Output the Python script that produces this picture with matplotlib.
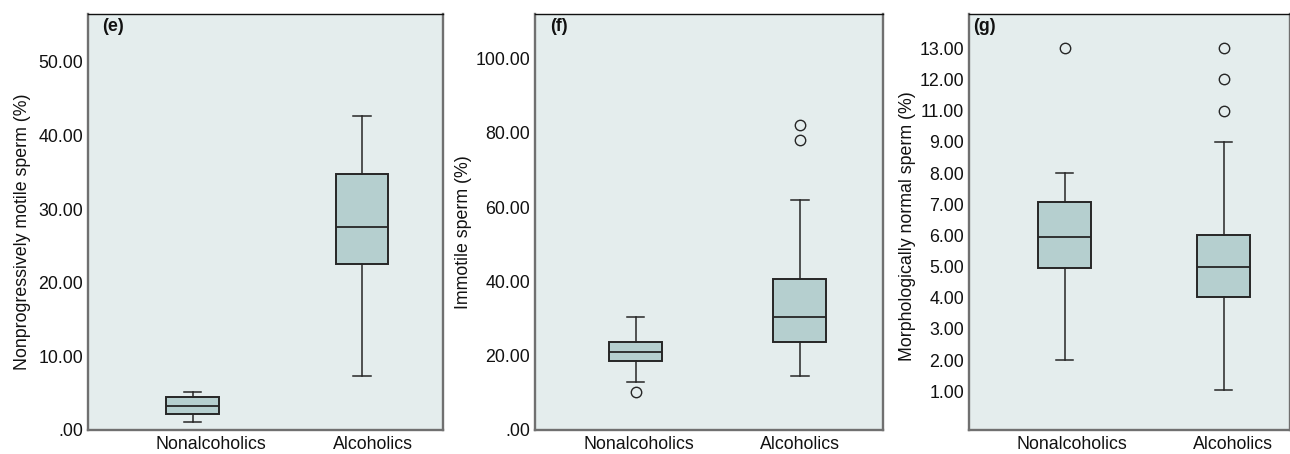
import numpy as np
import matplotlib
matplotlib.use("Agg")
import matplotlib.pyplot as plt

plt.rcParams['font.family'] = ['Liberation Sans', 'DejaVu Sans']

groups = ["Nonalcoholics", "Alcoholics"]

# Panel (e): Nonprogressively motile sperm (%)
e_whislo = [1.1, 7.3]
e_q1 = [2.2, 22.5]
e_med = [3.3, 27.6]
e_q3 = [4.5, 34.8]
e_whishi = [5.2, 42.6]
e_fliers = [[], []]
e_ticks = [0, 10, 20, 30, 40, 50]
e_ticklabels = [".00", "10.00", "20.00", "30.00", "40.00", "50.00"]

# Panel (f): Immotile sperm (%)
f_whislo = [12.8, 14.5]
f_q1 = [18.65, 23.8]
f_med = [21.1, 30.5]
f_q3 = [23.8, 40.6]
f_whishi = [30.5, 61.8]
f_fliers = [[10.3], [78.1, 82.1]]
f_ticks = [0, 20, 40, 60, 80, 100]
f_ticklabels = [".00", "20.00", "40.00", "60.00", "80.00", "100.00"]

# Panel (g): Morphologically normal sperm (%)  (axis labels skip 10.00)
g_whislo = [2.0, 1.04]
g_q1 = [4.95, 4.03]
g_med = [5.94, 4.99]
g_q3 = [7.07, 6.01]
g_whishi = [8.0, 9.0]
g_fliers = [[13.0], [11.0, 12.0, 13.0]]
g_ticks = [1, 2, 3, 4, 5, 6, 7, 8, 9, 11, 12, 13]
g_ticklabels = ["1.00", "2.00", "3.00", "4.00", "5.00", "6.00", "7.00",
                "8.00", "9.00", "11.00", "12.00", "13.00"]

BG = "#E4EDED"
BOX = "#B5CFCF"
EDGE = "#262626"
SPINE = "#707070"
FS = 12.8

W, H = 1290, 454
fig = plt.figure(figsize=(W / 100, H / 100), dpi=100)


def make_ax(l, r, t=14, b=430):
    return fig.add_axes([l / W, 1 - b / H, (r - l) / W, (b - t) / H])


def draw(ax, whislo, q1, med, q3, whishi, fliers, xlim, width, capw, ylim,
         ticks, ticklabels, xtickpos, ylabel, ylab_x, ylab_y, tag, tag_x):
    stats = []
    for i in range(len(groups)):
        stats.append(dict(whislo=whislo[i], q1=q1[i], med=med[i], q3=q3[i],
                          whishi=whishi[i], fliers=np.array(fliers[i])))
    ax.set_facecolor(BG)
    ax.bxp(stats, positions=[1, 2], widths=width, capwidths=capw,
           patch_artist=True, showfliers=True,
           boxprops=dict(facecolor=BOX, edgecolor=EDGE, linewidth=1.4),
           medianprops=dict(color=EDGE, linewidth=1.3),
           whiskerprops=dict(color=EDGE, linewidth=1.1),
           capprops=dict(color=EDGE, linewidth=1.1),
           flierprops=dict(marker='o', markersize=7.5, markerfacecolor='none',
                           markeredgecolor=EDGE, markeredgewidth=1.0))
    ax.set_xlim(*xlim)
    ax.set_ylim(*ylim)
    ax.set_yticks(ticks)
    ax.set_yticklabels(ticklabels)
    ax.set_xticks(xtickpos)
    ax.set_xticklabels(groups)
    ax.tick_params(axis='both', length=0, labelsize=FS, colors='#111111')
    ax.tick_params(axis='x', pad=4.5)
    ax.tick_params(axis='y', pad=3.5)
    for s in ['left', 'bottom', 'right']:
        ax.spines[s].set_color(SPINE)
        ax.spines[s].set_linewidth(1.7)
    ax.spines['top'].set_color('#111111')
    ax.spines['top'].set_linewidth(1.0)
    ax.text(ylab_x, ylab_y, ylabel, transform=ax.transAxes, rotation=90,
            ha='center', va='center', fontsize=FS, color='#111111')
    ax.text(tag_x, 0.99, tag, transform=ax.transAxes, ha='left', va='top',
            fontsize=FS, fontweight='bold', color='#111111')


# (e)
ax_e = make_ax(88, 443)
draw(ax_e, e_whislo, e_q1, e_med, e_q3, e_whishi, e_fliers,
     xlim=(0.382, 2.478), width=0.311, capw=0.103, ylim=(0, 56.5),
     ticks=e_ticks, ticklabels=e_ticklabels, xtickpos=[1.108, 2.062],
     ylabel="Nonprogressively motile sperm (%)",
     ylab_x=(22.5 - 88) / 355, ylab_y=(430 - 231.5) / 416,
     tag="(e)", tag_x=(101.7 - 88) / 355)

# (f)
ax_f = make_ax(535, 883)
draw(ax_f, f_whislo, f_q1, f_med, f_q3, f_whishi, f_fliers,
     xlim=(0.386, 2.506), width=0.323, capw=0.105, ylim=(0, 112),
     ticks=f_ticks, ticklabels=f_ticklabels, xtickpos=[1.018, 1.999],
     ylabel="Immotile sperm (%)",
     ylab_x=(463.8 - 535) / 348, ylab_y=(430 - 232.5) / 416,
     tag="(f)", tag_x=(550 - 535) / 348)

# (g): piecewise scale, labelled values 9 -> 11 span one axis unit
def g_fwd(y):
    y = np.asarray(y, dtype=float)
    return np.where(y <= 9, y, np.where(y >= 11, y - 1, 9 + (y - 9) / 2))


def g_inv(u):
    u = np.asarray(u, dtype=float)
    return np.where(u <= 9, u, np.where(u >= 10, u + 1, 9 + (u - 9) * 2))


ax_g = make_ax(969, 1289.5)
ax_g.set_yscale('function', functions=(g_fwd, g_inv))
draw(ax_g, g_whislo, g_q1, g_med, g_q3, g_whishi, g_fliers,
     xlim=(0.398, 2.414), width=0.334, capw=0.105, ylim=(-0.24, 14.10),
     ticks=g_ticks, ticklabels=g_ticklabels, xtickpos=[1.048, 2.061],
     ylabel="Morphologically normal sperm (%)",
     ylab_x=(907 - 969) / 321, ylab_y=(430 - 226) / 416,
     tag="(g)", tag_x=(973.3 - 969) / 321)

fig.savefig("out.png", dpi=100)
